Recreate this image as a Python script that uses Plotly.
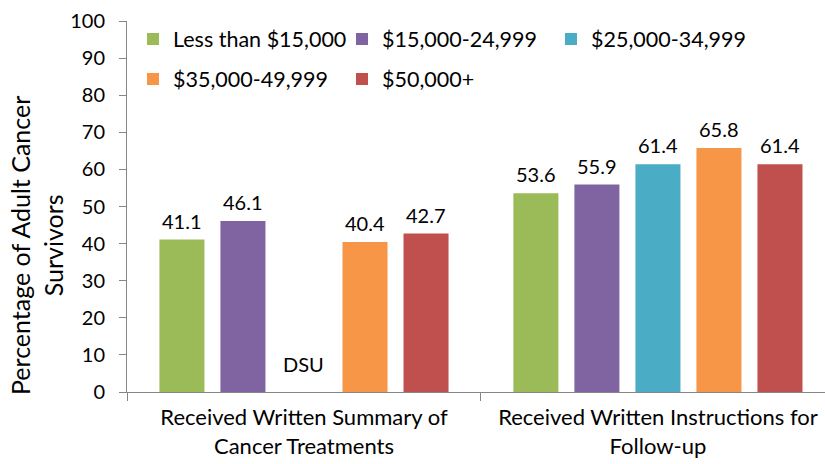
import plotly.graph_objects as go

# Survey items (x categories) and household income groups (series)
categories = [
    "Received Written Summary of<br>Cancer Treatments",
    "Received Written Instructions for<br>Follow-up",
]
income_groups = [
    "Less than $15,000",
    "$15,000-24,999",
    "$25,000-34,999",
    "$35,000-49,999",
    "$50,000+",
]
less_than_15k = [41.1, 53.6]
from_15k_to_25k = [46.1, 55.9]
from_25k_to_35k = [None, 61.4]   # first item: data statistically unreliable (DSU)
from_35k_to_50k = [40.4, 65.8]
over_50k = [42.7, 61.4]
series_values = [less_than_15k, from_15k_to_25k, from_25k_to_35k, from_35k_to_50k, over_50k]

colors = ["#9BBB59", "#8064A2", "#4BACC6", "#F79646", "#C0504D"]
legend_rows = ["legend", "legend", "legend", "legend2", "legend2"]

FONT = "Lato, 'Open Sans', sans-serif"
AXIS_GRAY = "#868686"

# Figure geometry
WIDTH, HEIGHT = 825, 464
M_L, M_R, M_T, M_B = 127, 0, 21, 72
X_RANGE = [-0.5, 1.472]
BARGAP, BARGROUPGAP = 0.138, 0.262
plot_w = WIDTH - M_L - M_R
plot_h = HEIGHT - M_T - M_B
px_per_cat = plot_w / (X_RANGE[1] - X_RANGE[0])
slot_px = px_per_cat * (1 - BARGAP) / len(income_groups)

fig = go.Figure()
for name, vals, color, leg in zip(income_groups, series_values, colors, legend_rows):
    fig.add_trace(go.Bar(
        name=name,
        x=categories,
        y=vals,
        marker=dict(color=color, line=dict(width=0)),
        legend=leg,
    ))

# Value labels above each bar, placed at the bar's own slot within its group
for i, vals in enumerate(series_values):
    shift = (i - (len(income_groups) - 1) / 2) * slot_px
    for cat, v in zip(categories, vals):
        if v is None:
            continue
        fig.add_annotation(
            x=cat, y=v, xref="x", yref="y", xshift=shift, yshift=5,
            text=f"{v:.1f}", showarrow=False, yanchor="bottom",
            font=dict(family=FONT, size=20, color="#000000"),
        )

# Missing estimate marker for the $25,000-34,999 group
fig.add_annotation(
    x=categories[0], y=0, xref="x", yref="y",
    text="DSU", showarrow=False, yanchor="bottom", yshift=14,
    font=dict(family=FONT, size=20, color="#000000"),
)

# Y-axis title (two lines)
fig.add_annotation(
    x=(36 - M_L) / plot_w, y=(HEIGHT - M_B - 246) / plot_h,
    xref="paper", yref="paper",
    text="Percentage of Adult Cancer<br>Survivors", showarrow=False,
    textangle=-90, font=dict(family=FONT, size=25, color="#000000"),
    xanchor="center", yanchor="middle",
)

legend_common = dict(
    orientation="h",
    xanchor="left",
    yanchor="middle",
    font=dict(family=FONT, size=21.5, color="#000000"),
    bgcolor="rgba(0,0,0,0)",
    entrywidth=164,
    entrywidthmode="pixels",
    itemclick=False,
)

fig.update_layout(
    width=WIDTH,
    height=HEIGHT,
    margin=dict(l=M_L, r=M_R, t=M_T, b=M_B),
    paper_bgcolor="white",
    plot_bgcolor="white",
    barmode="group",
    bargap=BARGAP,
    bargroupgap=BARGROUPGAP,
    font=dict(family=FONT, size=20, color="#000000"),
    legend=dict(x=0.0086, y=0.9515, **legend_common),
    legend2=dict(x=0.0086, y=0.8437, **legend_common),
    xaxis=dict(
        type="category",
        range=X_RANGE,
        tickson="boundaries",
        ticks="outside",
        ticklen=8,
        tickcolor=AXIS_GRAY,
        showline=True,
        linecolor=AXIS_GRAY,
        linewidth=1,
        showgrid=False,
        ticklabelstandoff=6,
        tickfont=dict(family=FONT, size=22, color="#000000"),
    ),
    yaxis=dict(
        range=[0, 100],
        dtick=10,
        ticks="outside",
        ticklen=7,
        tickcolor=AXIS_GRAY,
        showline=True,
        linecolor=AXIS_GRAY,
        linewidth=1,
        showgrid=False,
        zeroline=False,
        ticklabelstandoff=10,
        tickfont=dict(family=FONT, size=20, color="#000000"),
    ),
)

fig.write_html("out.html")
